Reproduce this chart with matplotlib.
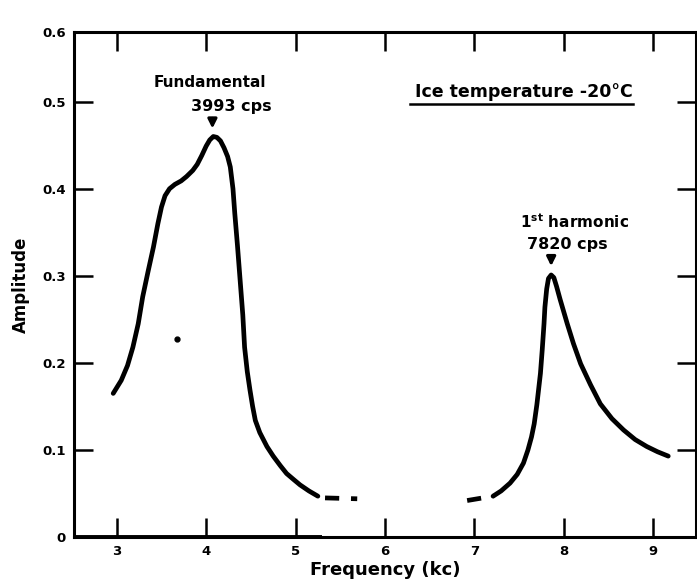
import matplotlib.pyplot as plt
import numpy as np

# ---- data ----
# fundamental resonance curve (solid part)
fund_freq = [2.96, 3.05, 3.12, 3.18, 3.24, 3.29, 3.35, 3.41, 3.46, 3.50, 3.54, 3.59, 3.65, 3.72,
             3.78, 3.85, 3.90, 3.95, 4.00, 4.04, 4.08, 4.12, 4.16, 4.20, 4.24, 4.27, 4.30, 4.32,
             4.35, 4.38, 4.41, 4.43, 4.46, 4.49, 4.52, 4.55, 4.60, 4.68, 4.75, 4.83, 4.90, 4.98,
             5.05, 5.15, 5.25]
fund_amp = [0.165, 0.180, 0.197, 0.218, 0.245, 0.276, 0.305, 0.333, 0.360, 0.379, 0.392, 0.400, 0.405, 0.409,
            0.414, 0.421, 0.428, 0.438, 0.449, 0.456, 0.460, 0.459, 0.455, 0.447, 0.437, 0.425, 0.400, 0.372,
            0.335, 0.295, 0.255, 0.218, 0.190, 0.169, 0.150, 0.134, 0.120, 0.104, 0.093, 0.082, 0.073, 0.066,
            0.060, 0.053, 0.047]
# dashed continuation
fund_dash_freq = [5.33, 5.69]
fund_dash_amp = [0.045, 0.044]

# first harmonic curve
harm_dash_freq = [6.92, 7.21]
harm_dash_amp = [0.042, 0.047]
harm_freq = [7.21, 7.30, 7.40, 7.48, 7.55, 7.60, 7.64, 7.67, 7.70, 7.72, 7.74, 7.76, 7.78, 7.79,
             7.81, 7.83, 7.86, 7.89, 7.92, 7.96, 8.00, 8.04, 8.11, 8.19, 8.30, 8.41, 8.54, 8.67,
             8.80, 8.93, 9.05, 9.17]
harm_amp = [0.047, 0.053, 0.062, 0.072, 0.085, 0.100, 0.115, 0.130, 0.152, 0.170, 0.188, 0.215, 0.245, 0.264,
            0.285, 0.297, 0.301, 0.298, 0.288, 0.273, 0.259, 0.245, 0.222, 0.199, 0.175, 0.153, 0.136, 0.123,
            0.112, 0.104, 0.098, 0.093]

# stray dot in the original scan
dot_freq = [3.67]
dot_amp = [0.228]

xticks = [3, 4, 5, 6, 7, 8, 9]
yticks = [0, 0.1, 0.2, 0.3, 0.4, 0.5, 0.58]
ytick_labels = ['0', '0.1', '0.2', '0.3', '0.4', '0.5', '0.6']

fund_peak = (4.07, 0.466)
harm_peak = (7.86, 0.308)

# ---- plot ----
plt.rcParams['font.family'] = 'DejaVu Sans'
plt.rcParams['font.weight'] = 'bold'

fig = plt.figure(figsize=(6.97, 5.87), dpi=100)
ax = fig.add_axes([0.106, 0.085, 0.8925, 0.8605])

lw = 3.4
ax.plot(fund_freq, fund_amp, color='black', lw=lw, solid_capstyle='round', solid_joinstyle='round')
ax.plot(fund_dash_freq, fund_dash_amp, color='black', lw=lw, dashes=(3, 2.5))
ax.plot(harm_dash_freq, harm_dash_amp, color='black', lw=lw, dashes=(3, 2.5))
ax.plot(harm_freq, harm_amp, color='black', lw=lw, solid_capstyle='round', solid_joinstyle='round')
ax.plot(dot_freq, dot_amp, 'o', color='black', ms=3.5)

ax.set_xlim(2.52, 9.48)
ax.set_ylim(0, 0.58)
ax.set_xticks(xticks)
ax.set_xticklabels([str(t) for t in xticks])
ax.set_yticks(yticks)
ax.set_yticklabels(ytick_labels)

for s in ax.spines.values():
    s.set_linewidth(2.2)
ax.tick_params(direction='in', length=14, width=1.8, top=True, right=True,
               labelsize=9.5, pad=6)
for lab in ax.get_xticklabels() + ax.get_yticklabels():
    lab.set_fontweight('bold')

# slightly heavier bit of the base line under the fundamental
ax.plot([2.52, 5.3], [0, 0], color='black', lw=2.8, clip_on=False, solid_capstyle='butt')

ax.set_xlabel('Frequency (kc)', fontsize=13, fontweight='bold', labelpad=2)
ax.set_ylabel('Amplitude', fontsize=12, fontweight='bold', labelpad=9)

# annotations
ax.text(4.04, 0.522, 'Fundamental', ha='center', va='center', fontsize=11, fontweight='bold')
ax.text(4.28, 0.494, '3993 cps', ha='center', va='center', fontsize=11.5, fontweight='bold')
ax.annotate('', xy=fund_peak, xytext=(fund_peak[0], 0.484),
            arrowprops=dict(arrowstyle='-|>', color='black', lw=2.2, mutation_scale=13))

ax.text(7.55, 0.511, 'Ice temperature -20\u00b0C', ha='center', va='center', fontsize=12.5, fontweight='bold')
ax.plot([6.28, 8.78], [0.497, 0.497], color='black', lw=1.8)

ax.text(8.12, 0.362, r'1$^{\mathbf{st}}$ harmonic', ha='center', va='center', fontsize=11, fontweight='bold')
ax.text(8.04, 0.336, '7820 cps', ha='center', va='center', fontsize=11.5, fontweight='bold')
ax.annotate('', xy=harm_peak, xytext=(harm_peak[0], 0.324),
            arrowprops=dict(arrowstyle='-|>', color='black', lw=2.2, mutation_scale=13))

fig.savefig('out.png', dpi=100)
